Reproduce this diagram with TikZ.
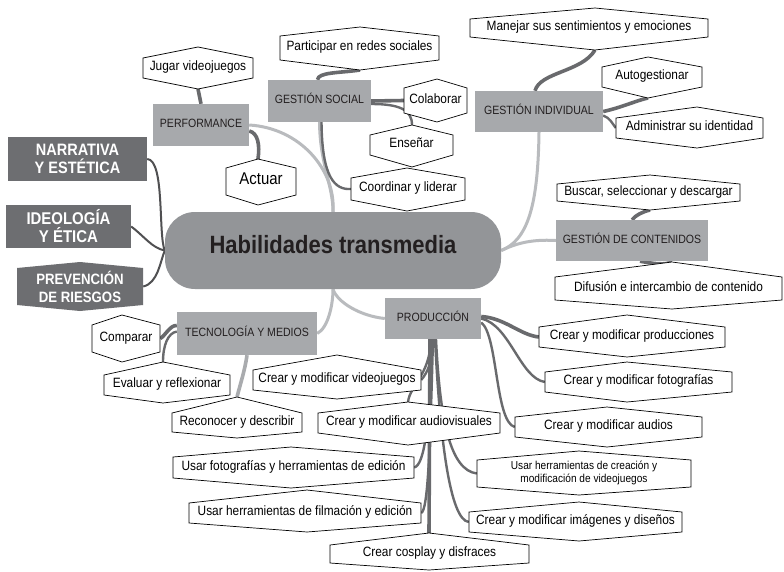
\documentclass[tikz,border=0pt]{standalone}
\usepackage{fontspec}
\setmainfont{Liberation Sans}[FakeStretch=0.88]
\definecolor{cgray}{RGB}{147,149,152}
\definecolor{sgray}{RGB}{167,169,172}
\definecolor{dgray}{RGB}{109,110,113}
\definecolor{lline}{RGB}{185,187,190}
\definecolor{dline}{RGB}{105,106,109}
\definecolor{eline}{RGB}{80,80,82}
\definecolor{txt}{RGB}{35,31,32}
\pgfdeclarelayer{bg}\pgfdeclarelayer{mid}\pgfsetlayers{bg,mid,main}
\tikzset{
  leafshape/.style={draw=black,line width=0.7pt,fill=white,line join=miter},
  leaftext/.style={inner sep=0pt,text=black,font=\fontsize{13.5}{15}\selectfont,text height=0.72em,text depth=0.2em},
  subtopic/.style={fill=sgray,inner sep=0pt,text=txt,font=\fontsize{12}{14}\selectfont,text height=0.72em,text depth=0.2em},
  darkbox/.style={fill=dgray,inner sep=0pt,text=white,align=center},
  central/.style={fill=cgray,rounded corners=30pt,inner sep=0pt,text=txt,font=\fontsize{25}{30}\selectfont\bfseries,text height=0.72em,text depth=0.2em},
  lconn/.style={draw=lline,line width=3pt},
  econn/.style={draw=eline,line width=2pt},
  sconn/.style={draw=dline,line width=3.6pt},
  tconn/.style={draw=dline,line width=2.4pt},
}
\newcommand{\leaf}[9]{%
  \begin{pgfonlayer}{mid}
  \draw[leafshape] (#2,#4) -- (#6,#7) -- (#3,#4) -- (#3,#5) -- (#6,#8) -- (#2,#5) -- cycle;
  \end{pgfonlayer}
  \node[leaftext,minimum width={(#3-#2)*1pt},minimum height={(#5-#4)*1pt}] (#1) at ({(#2+#3)/2},{(#4+#5)/2}) {#9};
  \coordinate (#1-t) at (#6,#7);
  \coordinate (#1-b) at (#6,#8);
}
\begin{document}
\begin{tikzpicture}[x=1pt,y=-1pt]
\useasboundingbox (0,0) rectangle (784,571);
\begin{pgfonlayer}{bg}
\fill[white] (0,0) rectangle (784,571);
\end{pgfonlayer}

% central
\node[central,minimum width=336pt,minimum height=77pt] (c) at (333,250.5) {Habilidades transmedia};

% dark boxes
\node[darkbox,minimum width=139pt,minimum height=44pt,font=\fontsize{16.5}{18}\selectfont\bfseries] (narr) at (77.5,159) {NARRATIVA\\Y ESTÉTICA};
\node[darkbox,minimum width=125pt,minimum height=43pt,font=\fontsize{17}{18}\selectfont\bfseries] (ideo) at (68.5,226.5) {IDEOLOGÍA\\Y ÉTICA};
\begin{pgfonlayer}{mid}
\fill[dgray] (17,268) -- (80,262) -- (143,268) -- (143,305) -- (80,311) -- (17,305) -- cycle;
\end{pgfonlayer}
\node[inner sep=0pt,text=white,align=center,font=\fontsize{15}{18}\selectfont\bfseries,minimum width=126pt,minimum height=37pt] (prev) at (80,286.5) {PREVENCIÓN\\DE RIESGOS};

% subtopics
\node[subtopic,minimum width=96pt,minimum height=42pt] (perf) at (201,125) {PERFORMANCE};
\node[subtopic,minimum width=103pt,minimum height=42pt] (gsoc) at (319.5,101) {GESTIÓN SOCIAL};
\node[subtopic,minimum width=128pt,minimum height=41pt] (gind) at (539,111.5) {GESTIÓN INDIVIDUAL};
\node[subtopic,minimum width=152pt,minimum height=41pt] (gcont) at (632,240.5) {GESTIÓN DE CONTENIDOS};
\node[subtopic,minimum width=140pt,minimum height=43pt] (tecno) at (247,333.5) {TECNOLOGÍA Y MEDIOS};
\node[subtopic,minimum width=96pt,minimum height=41pt] (prod) at (433,318.5) {PRODUCCIÓN};

% leaves
\leaf{jugar}{143}{253}{58}{78}{198}{47}{89}{Jugar videojuegos}
\leaf{partic}{280}{439}{36}{60}{360}{27}{70}{Participar en redes sociales}
\leaf{colab}{404}{467}{88}{113}{437}{79}{122}{Colaborar}
\leaf{ensen}{370}{453}{135}{155}{412}{125}{167}{Enseñar}
\leaf{actuar}{226}{296}{168}{195}{258}{159}{205}{\fontsize{17}{20}\selectfont Actuar}
\leaf{coord}{351}{465}{178}{200}{407}{168}{211}{Coordinar y liderar}
\leaf{manejar}{470}{708}{19}{37}{595}{8}{50}{Manejar sus sentimientos y emociones}
\leaf{autog}{602}{702}{67}{87}{648}{57}{98}{Autogestionar}
\leaf{admin}{616}{763}{118}{138}{697}{107}{148}{Administrar su identidad}
\leaf{buscar}{557}{740}{184}{201}{650}{175}{210}{Buscar, seleccionar y descargar}
\leaf{difus}{555}{782}{277}{300}{672}{262}{309}{Difusión e intercambio de contenido}
\leaf{compar}{92}{160}{325}{352}{122}{315}{362}{Comparar}
\leaf{evaluar}{104}{230}{375}{395}{163}{362}{403}{Evaluar y reflexionar}
\leaf{recon}{172}{302}{413}{432}{237}{397}{438}{Reconocer y describir}
\leaf{videoj}{253}{421}{370}{390}{337}{355}{399}{Crear y modificar videojuegos}
\leaf{audiov}{318}{500}{413}{433}{408}{402}{445}{Crear y modificar audiovisuales}
\leaf{produc}{539}{725}{327}{347}{627}{315}{357}{Crear y modificar producciones}
\leaf{fotog}{545}{732}{372}{392}{627}{362}{402}{Crear y modificar fotografías}
\leaf{audios}{515}{702}{417}{437}{607}{407}{447}{Crear y modificar audios}
\leaf{usarfoto}{173}{414}{457}{478}{291}{447}{488}{Usar fotografías y herramientas de edición}
\leaf{usarcrea}{477}{691}{460}{487}{579}{451}{495}{\parbox{200pt}{\centering\fontsize{11.5}{13}\selectfont Usar herramientas de creación y\\modificación de videojuegos}}
\leaf{usarfilm}{189}{421}{503}{523}{307}{490}{532}{Usar herramientas de filmación y edición}
\leaf{imagen}{469}{682}{512}{532}{579}{502}{541}{Crear y modificar imágenes y diseños}
\leaf{cosplay}{330}{529}{545}{563}{429}{533}{570}{Crear cosplay y disfraces}

\begin{pgfonlayer}{bg}
% main branches
\draw[lconn] (perf.east) .. controls (300,128) and (336,170) .. (c.north);
\draw[lconn] (gsoc.south) .. controls (320,165) and (333,185) .. (c.north);
\draw[lconn] (gind.south) .. controls (538,205) and (528,240) .. (c.east);
\draw[lconn] (gcont.west) .. controls (530,239) and (515,244) .. (c.east);
\draw[lconn] (tecno.east) .. controls (328,328) and (333,305) .. (c.south);
\draw[lconn] (prod.west) .. controls (360,316) and (337,302) .. (c.south);
% left boxes
\draw[econn] (narr.east) .. controls (165,160) and (158,235) .. (c.west);
\draw[econn] (ideo.east) .. controls (145,237) and (152,248) .. (c.west);
\draw[econn] (prev.east) .. controls (158,283) and (160,262) .. (c.west);
% performance
\draw[sconn] (perf.north) -- (jugar-b);
\draw[sconn] ([yshift=-6pt]perf.east) .. controls (258,133) and (260,145) .. (actuar-t);
% gestion social
\draw[sconn] ([xshift=-2pt]gsoc.north) .. controls (318,72) and (340,73) .. (partic-b);
\draw[sconn] (gsoc.east) -- (colab.west);
\draw[tconn] ([yshift=-3pt]gsoc.east) .. controls (400,104) and (412,110) .. (ensen-t);
\draw[tconn] ([xshift=2pt]gsoc.south) .. controls (322,178) and (335,190) .. (coord.west);
% gestion individual
\draw[sconn] ([xshift=-4pt]gind.north) .. controls (540,72) and (582,72) .. (manejar-b);
\draw[sconn] (gind.east) .. controls (620,108) and (638,100) .. (autog-b);
\draw[tconn] ([yshift=-4pt]gind.east) .. controls (610,118) and (612,123) .. (admin.west);
% gestion de contenidos
\draw[sconn] (gcont.north) .. controls (636,215) and (642,212) .. (buscar-b);
\draw[sconn] ([xshift=8pt]gcont.south) .. controls (655,264) and (665,265) .. (difus-t);
% tecnologia
\draw[sconn] ([yshift=8pt]tecno.west) .. controls (170,325) and (165,336) .. (compar.east);
\draw[tconn] ([yshift=2pt]tecno.west) .. controls (168,333) and (163,345) .. (evaluar-t);
\draw[sconn,draw=lline!80!dline] (tecno.south) .. controls (245,370) and (240,385) .. (recon-t);
% produccion
\draw[sconn] ([yshift=2pt]prod.east) .. controls (505,318) and (520,335) .. (produc.west);
\draw[tconn] (prod.east) .. controls (510,325) and (520,378) .. (fotog.west);
\draw[tconn] ([yshift=-4pt]prod.east) .. controls (498,335) and (495,422) .. (audios.west);
\draw[tconn] (prod.south) .. controls (433,360) and (428,372) .. (videoj.east);
\draw[tconn] ([xshift=-2pt]prod.south) .. controls (430,375) and (410,385) .. (audiov-t);
\draw[tconn] ([xshift=-1pt]prod.south) .. controls (430,420) and (425,465) .. (usarfoto.east);
\draw[tconn] (prod.south) .. controls (430,450) and (428,510) .. (usarfilm.east);
\draw[sconn] ([xshift=-3pt]prod.south) -- (cosplay-t);
\draw[tconn] ([xshift=3pt]prod.south) .. controls (440,420) and (450,470) .. (usarcrea.west);
\draw[tconn] ([xshift=2pt]prod.south) .. controls (440,440) and (450,520) .. (imagen.west);
\end{pgfonlayer}
\end{tikzpicture}
\end{document}
